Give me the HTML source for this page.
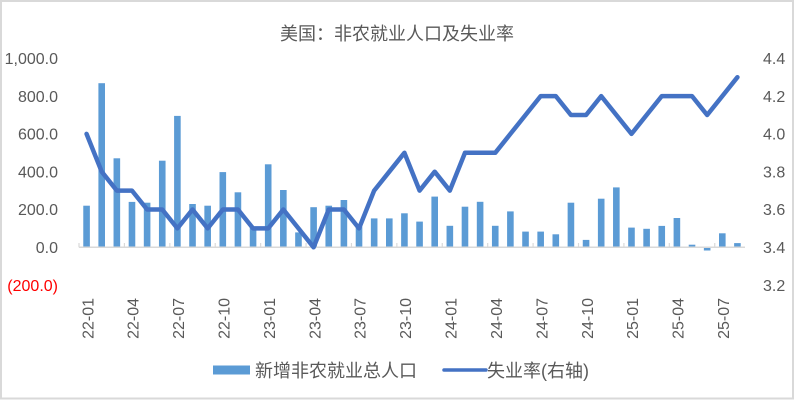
<!DOCTYPE html>
<html>
<head>
<meta charset="utf-8">
<style>
html,body{margin:0;padding:0;background:#fff;}
svg{display:block;}
text{font-family:"Liberation Sans","Noto Sans CJK SC",sans-serif;fill:#595959;}
</style>
</head>
<body>
<svg width="795" height="400" viewBox="0 0 795 400" xmlns="http://www.w3.org/2000/svg">
<rect x="0" y="0" width="795" height="400" fill="#fff"/>
<rect x="1" y="1" width="792" height="397.5" fill="#fff" stroke="#d9d9d9" stroke-width="2"/>
<text x="397" y="40" font-size="18" text-anchor="middle">美国：非农就业人口及失业率</text>
<g font-size="16" text-anchor="end">
<text x="58" y="64">1,000.0</text>
<text x="58" y="101.8">800.0</text>
<text x="58" y="139.6">600.0</text>
<text x="58" y="177.4">400.0</text>
<text x="58" y="215.2">200.0</text>
<text x="58" y="253">0.0</text>
<text x="58" y="290.8" style="fill:#ff0000">(200.0)</text>
</g>
<g font-size="16" text-anchor="start">
<text x="763" y="64">4.4</text>
<text x="763" y="101.8">4.2</text>
<text x="763" y="139.6">4.0</text>
<text x="763" y="177.4">3.8</text>
<text x="763" y="215.2">3.6</text>
<text x="763" y="253">3.4</text>
<text x="763" y="290.8">3.2</text>
</g>
<g fill="#5b9bd5">
<rect x="83.27" y="205.7" width="6.6" height="41.6"/>
<rect x="98.40" y="83.2" width="6.6" height="164.1"/>
<rect x="113.54" y="158.3" width="6.6" height="89.0"/>
<rect x="128.68" y="201.9" width="6.6" height="45.4"/>
<rect x="143.81" y="202.7" width="6.6" height="44.6"/>
<rect x="158.95" y="160.7" width="6.6" height="86.6"/>
<rect x="174.09" y="115.9" width="6.6" height="131.4"/>
<rect x="189.22" y="204.0" width="6.6" height="43.3"/>
<rect x="204.36" y="205.7" width="6.6" height="41.6"/>
<rect x="219.50" y="172.1" width="6.6" height="75.2"/>
<rect x="234.63" y="192.3" width="6.6" height="55.0"/>
<rect x="249.77" y="226.5" width="6.6" height="20.8"/>
<rect x="264.90" y="164.3" width="6.6" height="83.0"/>
<rect x="280.04" y="190.0" width="6.6" height="57.3"/>
<rect x="295.18" y="232.4" width="6.6" height="14.9"/>
<rect x="310.31" y="207.2" width="6.6" height="40.1"/>
<rect x="325.45" y="205.7" width="6.6" height="41.6"/>
<rect x="340.59" y="200.0" width="6.6" height="47.3"/>
<rect x="355.72" y="226.5" width="6.6" height="20.8"/>
<rect x="370.86" y="218.4" width="6.6" height="28.9"/>
<rect x="386.00" y="218.4" width="6.6" height="28.9"/>
<rect x="401.13" y="213.3" width="6.6" height="34.0"/>
<rect x="416.27" y="221.6" width="6.6" height="25.7"/>
<rect x="431.40" y="196.6" width="6.6" height="50.7"/>
<rect x="446.54" y="225.8" width="6.6" height="21.5"/>
<rect x="461.68" y="206.7" width="6.6" height="40.6"/>
<rect x="476.81" y="201.8" width="6.6" height="45.5"/>
<rect x="491.95" y="225.8" width="6.6" height="21.5"/>
<rect x="507.09" y="211.4" width="6.6" height="35.9"/>
<rect x="522.22" y="231.6" width="6.6" height="15.7"/>
<rect x="537.36" y="231.6" width="6.6" height="15.7"/>
<rect x="552.50" y="234.3" width="6.6" height="13.0"/>
<rect x="567.63" y="202.7" width="6.6" height="44.6"/>
<rect x="582.77" y="239.9" width="6.6" height="7.4"/>
<rect x="597.90" y="198.7" width="6.6" height="48.6"/>
<rect x="613.04" y="187.4" width="6.6" height="59.9"/>
<rect x="628.18" y="227.6" width="6.6" height="19.7"/>
<rect x="643.31" y="228.8" width="6.6" height="18.5"/>
<rect x="658.45" y="225.9" width="6.6" height="21.4"/>
<rect x="673.59" y="218.0" width="6.6" height="29.3"/>
<rect x="688.72" y="244.7" width="6.6" height="2.6"/>
<rect x="703.86" y="247.3" width="6.6" height="3.2"/>
<rect x="719.00" y="233.3" width="6.6" height="14.0"/>
<rect x="734.13" y="243.1" width="6.6" height="4.2"/>
</g>
<line x1="79" y1="247.3" x2="745" y2="247.3" stroke="#d9d9d9" stroke-width="1.5"/>
<g stroke="#d9d9d9" stroke-width="1.2">
<line x1="79" y1="243" x2="79" y2="247.3"/>
<line x1="124.41" y1="243" x2="124.41" y2="247.3"/>
<line x1="169.82" y1="243" x2="169.82" y2="247.3"/>
<line x1="215.23" y1="243" x2="215.23" y2="247.3"/>
<line x1="260.64" y1="243" x2="260.64" y2="247.3"/>
<line x1="306.05" y1="243" x2="306.05" y2="247.3"/>
<line x1="351.45" y1="243" x2="351.45" y2="247.3"/>
<line x1="396.86" y1="243" x2="396.86" y2="247.3"/>
<line x1="442.27" y1="243" x2="442.27" y2="247.3"/>
<line x1="487.68" y1="243" x2="487.68" y2="247.3"/>
<line x1="533.09" y1="243" x2="533.09" y2="247.3"/>
<line x1="578.50" y1="243" x2="578.50" y2="247.3"/>
<line x1="623.91" y1="243" x2="623.91" y2="247.3"/>
<line x1="669.32" y1="243" x2="669.32" y2="247.3"/>
<line x1="714.73" y1="243" x2="714.73" y2="247.3"/>
</g>
<polyline fill="none" stroke="#4472c4" stroke-width="4.5" stroke-linejoin="round" stroke-linecap="round" points="86.57,133.9 101.70,171.7 116.84,190.6 131.98,190.6 147.11,209.5 162.25,209.5 177.39,228.4 192.52,209.5 207.66,228.4 222.80,209.5 237.93,209.5 253.07,228.4 268.20,228.4 283.34,209.5 298.48,228.4 313.61,247.3 328.75,209.5 343.89,209.5 359.02,228.4 374.16,190.6 389.30,171.7 404.43,152.8 419.57,190.6 434.70,171.7 449.84,190.6 464.98,152.8 480.11,152.8 495.25,152.8 510.39,133.9 525.52,115.0 540.66,96.1 555.80,96.1 570.93,115.0 586.07,115.0 601.20,96.1 616.34,115.0 631.48,133.9 646.61,115.0 661.75,96.1 676.89,96.1 692.02,96.1 707.16,115.0 722.30,96.1 737.43,77.2"/>
<g font-size="16" text-anchor="end">
<text transform="translate(87.5,298) rotate(-90)" dy="0.36em">22-01</text>
<text transform="translate(132.9,298) rotate(-90)" dy="0.36em">22-04</text>
<text transform="translate(178.3,298) rotate(-90)" dy="0.36em">22-07</text>
<text transform="translate(223.7,298) rotate(-90)" dy="0.36em">22-10</text>
<text transform="translate(269.1,298) rotate(-90)" dy="0.36em">23-01</text>
<text transform="translate(314.5,298) rotate(-90)" dy="0.36em">23-04</text>
<text transform="translate(359.9,298) rotate(-90)" dy="0.36em">23-07</text>
<text transform="translate(405.3,298) rotate(-90)" dy="0.36em">23-10</text>
<text transform="translate(450.7,298) rotate(-90)" dy="0.36em">24-01</text>
<text transform="translate(496.1,298) rotate(-90)" dy="0.36em">24-04</text>
<text transform="translate(541.6,298) rotate(-90)" dy="0.36em">24-07</text>
<text transform="translate(587.0,298) rotate(-90)" dy="0.36em">24-10</text>
<text transform="translate(632.4,298) rotate(-90)" dy="0.36em">25-01</text>
<text transform="translate(677.8,298) rotate(-90)" dy="0.36em">25-04</text>
<text transform="translate(723.2,298) rotate(-90)" dy="0.36em">25-07</text>
</g>
<rect x="213" y="365.5" width="37" height="9" fill="#5b9bd5"/>
<text x="255" y="376.8" font-size="18">新增非农就业总人口</text>
<line x1="444" y1="370" x2="486" y2="370" stroke="#4472c4" stroke-width="3.5" stroke-linecap="round"/>
<text x="487" y="376.8" font-size="18">失业率(右轴)</text>
</svg>
</body>
</html>
